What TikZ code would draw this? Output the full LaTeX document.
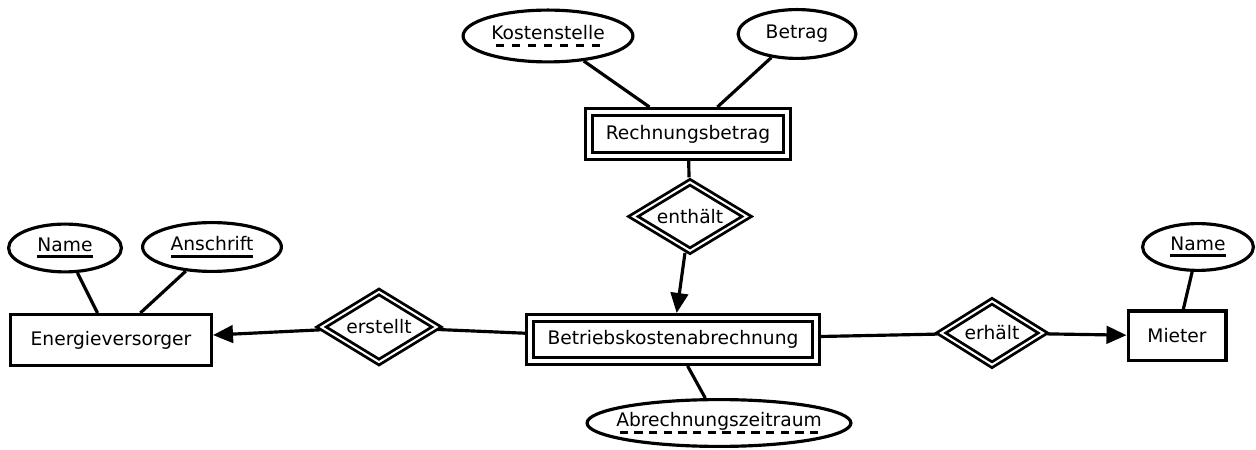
\documentclass[tikz,border=0pt]{standalone}
\usepackage{fontspec}
\setmainfont{DejaVu Sans}
\usetikzlibrary{shapes.geometric, arrows.meta}

% underlines for keys
\newsavebox{\keybox}
\newcommand{\keyline}[1]{\sbox{\keybox}{#1}\rlap{\rule[-4.3pt]{\wd\keybox}{1.8pt}}\usebox{\keybox}}
\newcommand{\partkey}[1]{\sbox{\keybox}{#1}\rlap{\hbox to \wd\keybox{\xleaders\hbox{\kern1.8pt\rule[-4.3pt]{5pt}{1.8pt}\kern1.8pt}\hfil}}\usebox{\keybox}}

\tikzset{
  entity/.style={draw, rectangle, line width=1.9pt, inner sep=0pt},
  weakentity/.style={entity, double, double distance=2.4pt, outer sep=3.1pt},
  attr/.style={draw, ellipse, line width=1.9pt, inner sep=0pt},
  rel/.style={draw, diamond, aspect=2, line width=1.7pt, inner sep=0pt, double, double distance=1.2pt, outer sep=2.3pt},
  link/.style={line width=1.9pt},
  tolink/.style={link, -{Triangle[length=12pt, width=10.5pt]}},
}

\begin{document}
\begin{tikzpicture}[x=0.6pt, y=-0.6pt, font=\fontsize{11.2pt}{13.4pt}\selectfont]
\useasboundingbox (0,0) rectangle (1256,450);

% Entities
\draw (688,134) node[weakentity, minimum width=118.6pt, minimum height=26.2pt] (rb) {Rechnungsbetrag};
\draw (673,339.5) node[weakentity, minimum width=171.4pt, minimum height=25.6pt] (bka) {Betriebskostenabrechnung};
\draw (111,340) node[entity, minimum width=120.5pt, minimum height=30.5pt] (ev) {Energieversorger};
\draw (1177,336) node[entity, minimum width=58.7pt, minimum height=29.9pt] (mieter) {Mieter};

% Relationships
\draw (690,216.5) node[rel, minimum width=70pt, minimum height=43pt] (enthaelt) {enthält};
\draw (379,327) node[rel, minimum width=71pt, minimum height=44pt] (erstellt) {erstellt};
\draw (992,333) node[rel, minimum width=63pt, minimum height=40pt] (erhaelt) {erhält};

% Attributes
\draw (548,36) node[attr, minimum width=101.9pt, minimum height=31.1pt] (kst) {\partkey{Kostenstelle}};
\draw (797,34) node[attr, minimum width=70.7pt, minimum height=29.3pt] (betrag) {Betrag};
\draw (719,423) node[attr, minimum width=158.3pt, minimum height=28.1pt] (azr) {\makebox[0pt]{\partkey{Abrechnungszeitraum}}};
\draw (65,248) node[attr, minimum width=67.7pt, minimum height=28.7pt] (evname) {\keyline{Name}};
\draw (212,247) node[attr, minimum width=83.3pt, minimum height=29.3pt] (anschrift) {\keyline{Anschrift}};
\draw (1198,247) node[attr, minimum width=66.5pt, minimum height=28.1pt] (mname) {\keyline{Name}};

% Attribute links
\draw[link] (kst) -- (rb);
\draw[link] (betrag) -- (rb);
\draw[link] (bka) -- (azr);
\draw[link] (evname) -- (ev);
\draw[link] (anschrift) -- (ev);
\draw[link] (mname) -- (mieter);

% Relationship links
\draw[link] (rb) -- (enthaelt);
\draw[tolink] (enthaelt) -- (bka);
\draw[link] (bka) -- (erstellt);
\draw[tolink] (erstellt) -- (ev);
\draw[link] (bka) -- (erhaelt);
\draw[tolink] (erhaelt) -- (mieter);
\end{tikzpicture}
\end{document}
